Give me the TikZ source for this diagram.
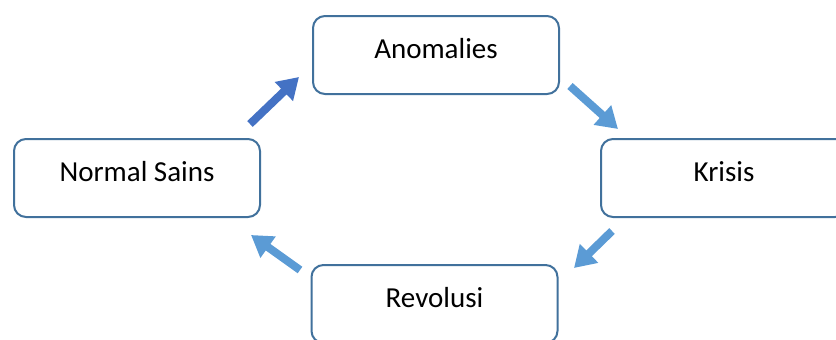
\documentclass[tikz,border=0pt]{standalone}
\usepackage{fontspec}
\setmainfont{Carlito}
\usepackage{xcolor}
\usetikzlibrary{arrows.meta}

\definecolor{boxline}{HTML}{41719C}
\definecolor{darkarrow}{HTML}{4472C4}
\definecolor{lightarrow}{HTML}{5B9BD5}

\begin{document}
\begin{tikzpicture}[x=1pt,y=-1pt,
    stage/.style={draw=boxline,line width=2pt,rounded corners=12pt,fill=white,
      minimum width=246pt,minimum height=78pt,inner sep=0pt,
      text height=20pt,text depth=14pt,font=\fontsize{29}{34}\selectfont},
    blockarrow/.style={line width=8pt,-{Triangle[width=25pt,length=21pt]}}]
    \useasboundingbox (0,0) rectangle (836,340);
    % the four stages
    \node[stage] (anomalies) at (436,55) {Anomalies};
    \node[stage] (krisis) at (724,178) {Krisis};
    \node[stage] (revolusi) at (434.5,304) {Revolusi};
    \node[stage] (normal) at (137,178) {Normal Sains};
    % arrow ends
    \coordinate (n-tail) at (250,124);
    \coordinate (n-tip) at (299,77);
    \coordinate (a-tail) at (570,86);
    \coordinate (a-tip) at (618,129);
    \coordinate (k-tail) at (612,231);
    \coordinate (k-tip) at (574,268);
    \coordinate (r-tail) at (300,270);
    \coordinate (r-tip) at (251,235);
    \draw[blockarrow,darkarrow] (n-tail) -- (n-tip);
    \draw[blockarrow,lightarrow] (a-tail) -- (a-tip);
    \draw[blockarrow,lightarrow] (k-tail) -- (k-tip);
    \draw[blockarrow,lightarrow] (r-tail) -- (r-tip);
  \end{tikzpicture}
\end{document}
